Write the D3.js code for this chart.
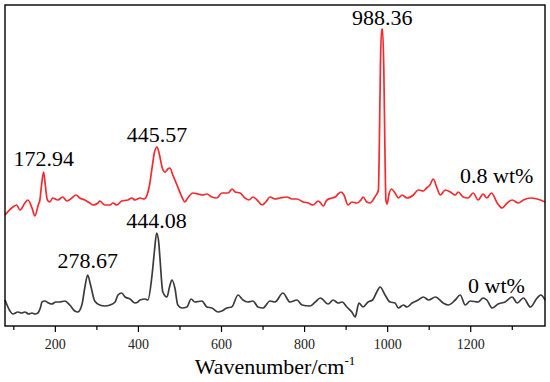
<!DOCTYPE html>
<html>
<head>
<script src="https://cdnjs.cloudflare.com/ajax/libs/d3/7.8.5/d3.min.js"></script>
</head>
<body style="margin:0">
<div id="chart"></div>
<script>
// 0.8 wt% spectrum (red)
var redWave = [80,99,108,116,128,135,145,152,160,164,168,173,177,182,188,195,207,219,229,241,251,260,272,284,292,304,308,320,333,340,349,361,376,385,393,405,415,422,428,434,440,446,452,458,465,472,477,484,494,506,513,520,532,545,556,566,578,590,602,617,627,634,646,658,667,677,687,699,708,718,730,742,759,771,783,798,810,822,834,840,846,855,867,875,882,889,896,906,915,927,937,942,951,959,969,975,979,981,984,987,989,992,995,997,1000,1004,1010,1019,1027,1036,1048,1063,1075,1087,1095,1103,1111,1120,1128,1140,1152,1164,1171,1183,1195,1207,1219,1231,1240,1251,1265,1277,1289,1301,1316,1328,1345,1361,1380];
var redInt = [111,119,121,116,123,126,118,110,121,126,141,154,141,126,124,128,126,129,125,128,131,128,126,123,121,123,125,121,121,123,121,125,126,128,126,128,127,131,141,158,174,179,171,159,154,157,158,151,141,129,124,128,133,132,131,132,129,128,133,133,137,134,133,128,126,129,126,121,124,129,127,128,129,127,127,124,123,121,125,123,120,126,128,129,132,134,131,121,124,123,126,129,124,123,128,132,136,176,266,297,297,256,166,126,122,131,137,133,128,131,128,131,136,135,138,141,147,138,131,136,134,131,134,129,128,133,126,132,128,133,123,118,123,126,123,126,128,127,124];

// 0 wt% spectrum (dark grey)
var blackWave = [80,92,99,111,120,128,137,145,152,159,165,169,176,185,193,202,212,224,236,248,255,265,272,279,286,296,308,320,333,345,352,361,369,381,393,400,405,417,424,434,440,445,450,453,460,470,476,482,489,496,506,518,528,537,554,566,578,593,602,614,626,641,653,665,677,689,701,718,730,749,766,783,795,814,827,839,858,870,882,892,903,915,923,932,942,954,965,975,983,995,1007,1019,1027,1039,1048,1060,1075,1087,1100,1116,1135,1147,1164,1176,1188,1200,1219,1231,1240,1253,1267,1284,1301,1313,1328,1345,1361,1370,1380];
var blackInt = [26,15,12,14,13,14,12,13,12,13,18,24,25,23,22,24,24,25,21,15,14,21,38,51,41,25,21,20,21,24,31,33,29,27,23,24,26,27,26,51,76,93,84,68,34,29,39,46,38,21,18,19,27,24,25,19,18,14,15,18,19,31,26,24,25,19,18,25,24,33,24,26,21,20,24,28,22,26,23,24,19,14,9,23,19,24,26,34,39,31,24,23,18,21,19,23,26,29,26,29,23,21,26,31,21,25,24,28,26,18,22,24,29,23,28,19,28,31,26];

var majorTicks = [200, 400, 600, 800, 1000, 1200];
var minorTicks = [100, 300, 500, 700, 900, 1100, 1300];

var peakText = ["988.36", "445.57", "172.94", "278.67", "444.08"];
var peakWave = [988, 446, 173, 279, 445];
var peakInt = [301, 184, 160, 58, 98];

var seriesNames = ["0.8 wt%", "0 wt%"];

var fontName = "Liberation Serif";

var svgWidth = 550;
var svgHeight = 382;

var margin = {top: 5, right: 5, bottom: 56, left: 5};
var width = svgWidth - margin.left - margin.right;
var height = svgHeight - margin.top - margin.bottom;

var svg = d3.select("#chart")
    .append("svg")
    .attr("width", svgWidth)
    .attr("height", svgHeight)
    .style("display", "block");

var chartGroup = svg.append("g")
    .attr("transform", `translate(${margin.left}, ${margin.top})`);

var xScale = d3.scaleLinear()
    .domain([80, 1380])
    .range([0, width]);

var yScale = d3.scaleLinear()
    .domain([0, 321])
    .range([height, 0]);

var redData = redWave.map((w, i) => ({w: w, v: redInt[i]}));
var blackData = blackWave.map((w, i) => ({w: w, v: blackInt[i]}));

var line = d3.line()
    .x(d => xScale(d.w))
    .y(d => yScale(d.v))
    .curve(d3.curveMonotoneX);

chartGroup.append("path")
    .datum(blackData)
    .attr("fill", "none")
    .attr("stroke", "#3b3b3b")
    .attr("stroke-width", 1.7)
    .attr("d", line);

chartGroup.append("path")
    .datum(redData)
    .attr("fill", "none")
    .attr("stroke", "#f42a2f")
    .attr("stroke-width", 1.7)
    .attr("d", line);

// frame
chartGroup.append("rect")
    .attr("x", 0)
    .attr("y", 0)
    .attr("width", width)
    .attr("height", height)
    .attr("fill", "none")
    .attr("stroke", "#000")
    .attr("stroke-width", 1.4);

// minor ticks
chartGroup.append("g")
    .attr("transform", `translate(0, ${height})`)
    .call(d3.axisBottom(xScale).tickValues(minorTicks).tickSize(4).tickSizeOuter(0).tickFormat(""))
    .call(g => g.select(".domain").remove())
    .selectAll("line").attr("stroke-width", 1.2);

// major ticks and labels
var bottomAxis = d3.axisBottom(xScale)
    .tickValues(majorTicks)
    .tickSize(6)
    .tickSizeOuter(0)
    .tickPadding(7)
    .tickFormat(d3.format("d"));

var xAxisG = chartGroup.append("g")
    .attr("transform", `translate(0, ${height})`)
    .call(bottomAxis);
xAxisG.select(".domain").remove();
xAxisG.selectAll("line").attr("stroke-width", 1.2);
xAxisG.selectAll("text")
    .attr("font-family", fontName)
    .attr("font-size", 14)
    .attr("fill", "#222");

// axis title
var title = svg.append("text")
    .attr("x", 275)
    .attr("y", 374)
    .attr("text-anchor", "middle")
    .attr("font-family", fontName)
    .attr("font-size", 22)
    .attr("fill", "#000");
title.append("tspan").text("Wavenumber/cm");
title.append("tspan").attr("dy", -9).attr("font-size", 13).text("-1");

// peak labels
chartGroup.selectAll(".peak")
    .data(peakText)
    .enter()
    .append("text")
    .attr("class", "peak")
    .attr("x", (d, i) => xScale(peakWave[i]))
    .attr("y", (d, i) => yScale(peakInt[i]))
    .attr("text-anchor", "middle")
    .attr("font-family", fontName)
    .attr("font-size", 22)
    .attr("fill", "#000")
    .text(d => d);

// series labels
chartGroup.append("text")
    .attr("x", 455)
    .attr("y", 178)
    .attr("font-family", fontName)
    .attr("font-size", 22)
    .text(seriesNames[0]);

chartGroup.append("text")
    .attr("x", 463)
    .attr("y", 288)
    .attr("font-family", fontName)
    .attr("font-size", 22)
    .text(seriesNames[1]);
</script>
</body>
</html>
